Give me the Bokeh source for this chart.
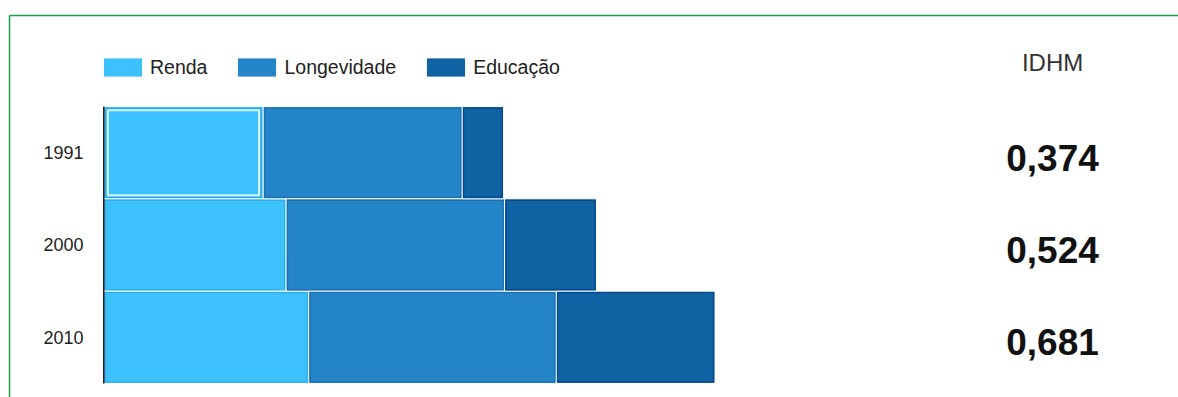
from bokeh.plotting import figure
from bokeh.models import (ColumnDataSource, Range1d, Legend, LegendItem, Label,
                          LinearAxis, FixedTicker)
from bokeh.core.properties import value
from bokeh.embed import file_html
from bokeh.resources import INLINE

# ---- data ----
years = ["1991", "2000", "2010"]
renda = [0.542, 0.620, 0.697]
longevidade = [0.677, 0.743, 0.842]
educacao = [0.141, 0.313, 0.540]
idhm = ["0,374", "0,524", "0,681"]
series = ["Renda", "Longevidade", "Educação"]
colors = ["#3cc1fd", "#2486c9", "#0f63a3"]
edges = ["#31ade8", "#1c70b0", "#0a4688"]

FONT = "Liberation Sans"
GREEN = "#16a047"

n = len(years)
ypos = [n - i - 0.5 for i in range(n)]          # first year on top
c1 = renda
c2 = [a + b for a, b in zip(renda, longevidade)]
c3 = [a + b for a, b in zip(c2, educacao)]

source = ColumnDataSource(dict(y=ypos, year=years, renda=renda, longevidade=longevidade,
                               educacao=educacao, idhm=idhm))

p = figure(width=1178, height=397, output_backend="svg", toolbar_location=None,
           x_range=Range1d(-0.3207, 3.6554), y_range=Range1d(-0.152, 3.986),
           x_axis_location=None, y_axis_location=None,
           min_border_left=9, min_border_right=0, min_border_top=15, min_border_bottom=0)
p.outline_line_color = None
p.xgrid.grid_line_color = None
p.ygrid.grid_line_color = None
p.background_fill_color = "white"
p.border_fill_color = "white"

# left axis: green frame line + year labels
yax = LinearAxis(ticker=FixedTicker(ticks=ypos),
                 major_label_overrides={y: t for y, t in zip(ypos, years)})
yax.axis_line_color = GREEN
yax.axis_line_alpha = 1.0
yax.axis_line_width = 1.5
yax.major_tick_line_color = None
yax.minor_tick_line_color = None
yax.major_tick_in = 0
yax.major_tick_out = 0
yax.major_label_standoff = -74
yax.major_label_text_font = FONT
yax.major_label_text_font_size = "18px"
yax.major_label_text_color = "#222222"
p.add_layout(yax, "left")

# top axis: green frame line
tax = LinearAxis(ticker=FixedTicker(ticks=[]))
tax.axis_line_color = GREEN
tax.axis_line_alpha = 1.0
tax.axis_line_width = 1.5
tax.major_tick_line_color = None
tax.minor_tick_line_color = None
tax.major_tick_in = 0
tax.major_tick_out = 0
tax.major_label_text_font_size = "0px"
p.add_layout(tax, "above")

rs = p.hbar_stack(["renda", "longevidade", "educacao"], y="y", height=1.0,
                  color=colors, line_color="white", line_width=1, source=source)

# darker inner edges of the bars
dx = 1.5 / 294
for left, right, ec in [([0] * n, c1, edges[0]), (c1, c2, edges[1]), (c2, c3, edges[2])]:
    p.hbar(y=ypos, left=[l + dx for l in left], right=[r - dx for r in right],
           height=0.967, fill_color=None, line_color=ec, line_width=1.2)

# highlight outline on the first Renda bar
p.hbar(y=[ypos[0]], left=[0.014], right=[renda[0] - 0.014], height=0.92,
       fill_color=None, line_color="#d6f2ff", line_width=2)

# baseline of the bars
p.segment(x0=[0], y0=[0], x1=[0], y1=[n], line_color="#222222", line_width=1.6)

# IDHM values
p.text(x=3.227, y="y", text="idhm", source=source, text_align="center",
       text_baseline="middle", y_offset=5, text_font=value(FONT),
       text_font_size="37px", text_font_style="bold", text_color="#111111")

p.add_layout(Label(x=3.227, y=335, y_units="screen", text="IDHM", text_align="center",
                   text_baseline="middle", text_font=FONT, text_font_size="24px",
                   text_color="#333333"))

# legend
items = [LegendItem(label=s, renderers=[r]) for s, r in zip(series, rs)]
legend = Legend(items=items, orientation="horizontal", location=(89, 318),
                glyph_width=49, glyph_height=24, label_standoff=3, spacing=25,
                padding=0, margin=0, border_line_color=None, background_fill_alpha=0,
                label_text_font=FONT, label_text_font_size="19.5px",
                label_text_color="#222222")
p.add_layout(legend)

open("out.html", "w").write(file_html(p, INLINE))
